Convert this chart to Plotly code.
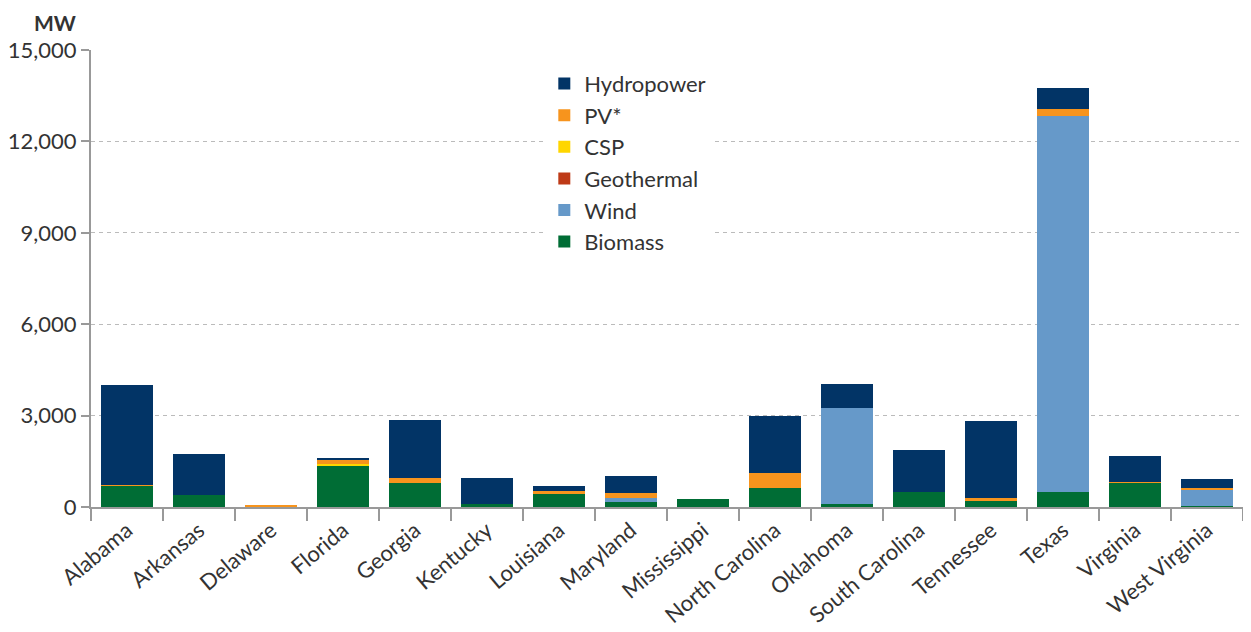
import plotly.graph_objects as go

states = ["Alabama", "Arkansas", "Delaware", "Florida", "Georgia", "Kentucky", "Louisiana",
          "Maryland", "Mississippi", "North Carolina", "Oklahoma", "South Carolina",
          "Tennessee", "Texas", "Virginia", "West Virginia"]

biomass    = [700, 410, 30, 1330, 800, 115, 450, 150, 250, 620, 90, 480, 200, 480, 800, 30]
wind       = [0, 0, 0, 0, 0, 0, 0, 145, 0, 0, 3160, 0, 20, 12370, 0, 550]
geothermal = [0, 0, 0, 0, 0, 0, 0, 0, 0, 0, 0, 0, 0, 0, 0, 0]
csp        = [0, 0, 0, 75, 0, 0, 0, 0, 0, 0, 0, 0, 0, 0, 0, 0]
pv         = [30, 0, 50, 165, 140, 0, 65, 180, 0, 490, 0, 0, 60, 230, 30, 35]
hydro      = [3270, 1320, 0, 30, 1910, 825, 165, 535, 0, 1870, 780, 1380, 2540, 660, 840, 295]

series = [
    ("Biomass", biomass, "#006D35"),
    ("Wind", wind, "#6699C9"),
    ("Geothermal", geothermal, "#BE3A17"),
    ("CSP", csp, "#FFD600"),
    ("PV*", pv, "#F7941D"),
    ("Hydropower", hydro, "#023466"),
]

y_ticks = [0, 3000, 6000, 9000, 12000, 15000]

fig = go.Figure()
for name, vals, color in series:
    fig.add_trace(go.Bar(x=states, y=vals, name=name, marker=dict(color=color, line=dict(width=0))))

font_family = "Lato, 'Open Sans', sans-serif"
fig.update_layout(
    barmode="stack",
    bargap=0.28,
    width=1243, height=624,
    margin=dict(l=83, r=8, t=42, b=125),
    plot_bgcolor="white", paper_bgcolor="white",
    font=dict(family=font_family, size=22, color="#333333"),
    legend=dict(
        traceorder="reversed",
        x=0.3935, y=0.972, xanchor="left", yanchor="top",
        bgcolor="white",
        font=dict(size=22, color="#333333"),
        itemwidth=30,
    ),
    xaxis=dict(
        automargin=False,
        tickangle=-40,
        showline=True, linecolor="#999999", linewidth=2,
        ticks="outside", tickson="boundaries", ticklen=12, tickwidth=2, tickcolor="#999999",
        tickfont=dict(size=22, color="#333333"),
        showgrid=False,
    ),
    yaxis=dict(
        automargin=False,
        range=[0, 15000],
        tickvals=y_ticks,
        tickformat=",d",
        showline=True, linecolor="#999999", linewidth=2,
        ticks="outside", ticklen=8, tickwidth=2, tickcolor="#999999",
        showgrid=True, gridcolor="#BBBBBB", griddash="4px,4px", gridwidth=1,
        zeroline=False,
        tickfont=dict(size=22, color="#333333"),
    ),
    annotations=[dict(
        text="<b>MW</b>", xref="paper", yref="paper", x=-0.0503, y=1.0905,
        xanchor="left", yanchor="top", showarrow=False, borderpad=0,
        font=dict(size=21, color="#333333"),
    )],
)

fig.write_html("out.html")
